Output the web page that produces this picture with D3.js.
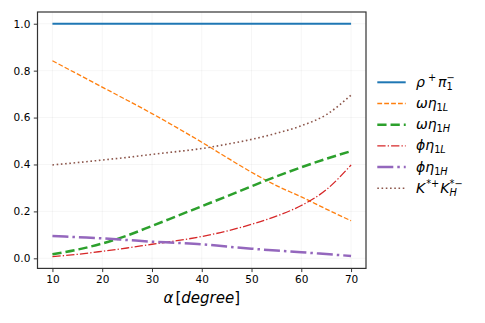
<!DOCTYPE html>
<html>
<head>
<meta charset="utf-8">
<script src="https://cdn.jsdelivr.net/npm/d3@7"></script>
<style>
  body { margin: 0; background: #fff; }
  text { font-family: "DejaVu Sans", sans-serif; fill: #000; }
</style>
</head>
<body>
<div class="chart"></div>
<script>
var svgWidth = 485;
var svgHeight = 323;

// plot box in pixels
var box = { left: 37.5, right: 366, top: 12, bottom: 268.4 };

// data
var alpha = [10, 15, 20, 25, 30, 35, 40, 45, 50, 55, 60, 65, 70];
var rhoPi   = [1, 1, 1, 1, 1, 1, 1, 1, 1, 1, 1, 1, 1];
var omegaL  = [0.842, 0.786, 0.730, 0.674, 0.617, 0.557, 0.495, 0.430, 0.367, 0.310, 0.262, 0.210, 0.160];
var omegaH  = [0.017, 0.037, 0.063, 0.097, 0.138, 0.180, 0.222, 0.264, 0.307, 0.349, 0.388, 0.424, 0.457];
var phiL    = [0.007, 0.017, 0.030, 0.044, 0.060, 0.075, 0.093, 0.116, 0.145, 0.180, 0.225, 0.292, 0.398];
var phiH    = [0.095, 0.090, 0.085, 0.078, 0.071, 0.066, 0.060, 0.050, 0.041, 0.033, 0.026, 0.018, 0.010];
var kStar   = [0.398, 0.408, 0.419, 0.430, 0.443, 0.455, 0.468, 0.486, 0.507, 0.533, 0.565, 0.612, 0.696];
var xTicks = [10, 20, 30, 40, 50, 60, 70];
var yTicks = [0.0, 0.2, 0.4, 0.6, 0.8, 1.0];

// label pieces: [text, mode, italic, stacked-on-previous, gap before]
var series = [
  { values: rhoPi, color: "#1f77b4", width: 2, dash: null,
    label: [["ρ", "n", 1], ["+", "sup", 0, 0, 3], ["π", "n", 1, 0, 2], ["1", "sub", 0], ["−", "sup", 0, 1]] },
  { values: omegaL, color: "#ff7f0e", width: 1.3, dash: "4.8,2.1",
    label: [["ω", "n", 1], ["η", "n", 1], ["1", "sub", 0], ["L", "sub", 1]] },
  { values: omegaH, color: "#2ca02c", width: 2.5, dash: "9.25,4",
    label: [["ω", "n", 1], ["η", "n", 1], ["1", "sub", 0], ["H", "sub", 1]] },
  { values: phiL, color: "#d62728", width: 1.3, dash: "8.3,2.1,1.3,2.1",
    label: [["ϕ", "n", 1], ["η", "n", 1], ["1", "sub", 0], ["L", "sub", 1]] },
  { values: phiH, color: "#9467bd", width: 2.5, dash: "16,4,2.5,4",
    label: [["ϕ", "n", 1], ["η", "n", 1], ["1", "sub", 0], ["H", "sub", 1]] },
  { values: kStar, color: "#8c564b", width: 1.6, dash: "1.6,2.64",
    label: [["K", "n", 1], ["*+", "sup", 0, 0, 1], ["K", "n", 1, 0, 1], ["H", "sub", 1], ["*−", "sup", 0, 1]] }
];

var svg = d3.select(".chart")
  .append("svg")
  .attr("width", svgWidth)
  .attr("height", svgHeight);

var x = d3.scaleLinear().domain([7, 73]).range([box.left, box.right]);
var y = d3.scaleLinear().domain([-0.043, 1.05]).range([box.bottom, box.top]);

// grid
svg.append("g").selectAll("line").data(xTicks).enter().append("line")
  .attr("x1", d => x(d)).attr("x2", d => x(d))
  .attr("y1", box.top).attr("y2", box.bottom)
  .attr("stroke", "#b0b0b0").attr("stroke-opacity", 0.15).attr("stroke-width", 0.8);
svg.append("g").selectAll("line").data(yTicks).enter().append("line")
  .attr("x1", box.left).attr("x2", box.right)
  .attr("y1", d => y(d)).attr("y2", d => y(d))
  .attr("stroke", "#b0b0b0").attr("stroke-opacity", 0.15).attr("stroke-width", 0.8);

// lines
var line = d3.line()
  .x((d, i) => x(alpha[i]))
  .y(d => y(d))
  .curve(d3.curveMonotoneX);

series.forEach(function (s) {
  svg.append("path")
    .attr("d", line(s.values))
    .attr("fill", "none")
    .attr("stroke", s.color)
    .attr("stroke-width", s.width)
    .attr("stroke-dasharray", s.dash);
});

// axes
var xAxis = svg.append("g")
  .attr("transform", `translate(0, ${box.bottom})`)
  .call(d3.axisBottom(x).tickValues(xTicks).tickSize(3.7).tickPadding(3.5).tickFormat(d3.format("d")));
var yAxis = svg.append("g")
  .attr("transform", `translate(${box.left}, 0)`)
  .call(d3.axisLeft(y).tickValues(yTicks).tickSize(3.7).tickPadding(3.5).tickFormat(d3.format(".1f")));

[xAxis, yAxis].forEach(function (a) {
  a.select(".domain").remove();
  a.selectAll("line").attr("stroke", "#000").attr("stroke-width", 0.8);
  a.selectAll("text").style("font-size", "10.5px").style("font-family", "DejaVu Sans");
});

// frame
svg.append("rect")
  .attr("x", box.left).attr("y", box.top)
  .attr("width", box.right - box.left).attr("height", box.bottom - box.top)
  .attr("fill", "none").attr("stroke", "#333").attr("stroke-width", 1.2);

// x label
var xl = svg.append("text")
  .attr("x", (box.left + box.right) / 2)
  .attr("y", 303)
  .attr("text-anchor", "middle")
  .style("font-size", "15px");
xl.append("tspan").style("font-style", "italic").text("α");
xl.append("tspan").attr("dx", 2).text("[");
xl.append("tspan").style("font-style", "italic").text("degree");
xl.append("tspan").text("]");

// math-ish label built from pieces
function drawLabel(g, pieces, fs) {
  var cx = 0, lastStart = 0;
  pieces.forEach(function (p) {
    var size = p[1] === "n" ? fs : fs * 0.7;
    var dy = p[1] === "sup" ? -fs * 0.4 : p[1] === "sub" ? fs * 0.22 : 0;
    var px = p[3] ? lastStart : cx + (p[4] || 0);
    var t = g.append("text")
      .attr("x", px).attr("y", dy)
      .style("font-size", size + "px")
      .style("font-style", p[2] ? "italic" : "normal")
      .text(p[0]);
    var w = t.node().getComputedTextLength();
    if (p[3]) {
      cx = Math.max(cx, px + w);
    } else {
      lastStart = px;
      cx = px + w;
    }
  });
}

// legend
var legend = svg.append("g");
series.forEach(function (s, i) {
  var ly = 82.3 + i * 21.2;
  legend.append("line")
    .attr("x1", 377.3).attr("x2", 405.7)
    .attr("y1", ly).attr("y2", ly)
    .attr("stroke", s.color)
    .attr("stroke-width", s.width)
    .attr("stroke-dasharray", s.dash);
  var g = legend.append("g").attr("transform", `translate(416, ${ly + 4.5})`);
  drawLabel(g, s.label, 14);
});
</script>
</body>
</html>
